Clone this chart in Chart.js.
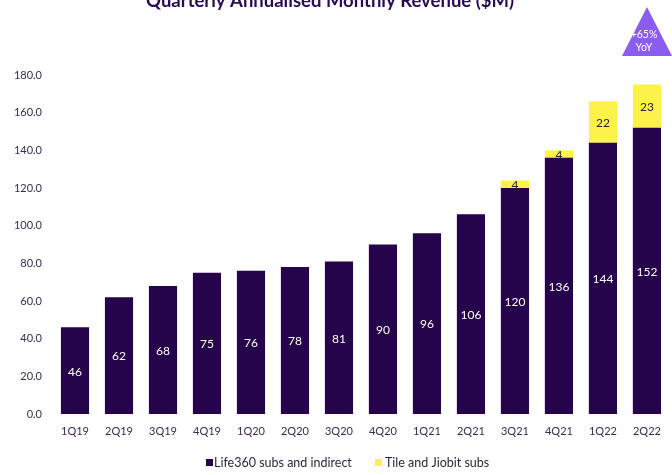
<!DOCTYPE html>
<html>
<head>
<meta charset="utf-8">
<script src="https://cdn.jsdelivr.net/npm/chart.js@4/dist/chart.umd.min.js"></script>
<style>
  html, body { margin: 0; padding: 0; background: #fff; }
  #wrap { width: 672px; height: 475px; position: relative; }
</style>
</head>
<body>
<div id="wrap"><canvas id="revenue-chart"></canvas></div>
<script>
const quarters = ['1Q19', '2Q19', '3Q19', '4Q19', '1Q20', '2Q20', '3Q20', '4Q20', '1Q21', '2Q21', '3Q21', '4Q21', '1Q22', '2Q22'];
const life360Subs = [46, 62, 68, 75, 76, 78, 81, 90, 96, 106, 120, 136, 144, 152];
const tileJiobitSubs = [null, null, null, null, null, null, null, null, null, null, 4, 4, 22, 23];
const yTicks = [0, 20, 40, 60, 80, 100, 120, 140, 160, 180];
const seriesNames = ['Life360 subs and indirect', 'Tile and Jiobit subs'];

const chartTitle = 'Quarterly Annualised Monthly Revenue ($M)*';
const badgeLines = ['+65%', 'YoY'];

const DARK = '#25044c';
const YELLOW = '#fdf24a';
const FONT = 'Lato, "Open Sans", sans-serif';

// values written inside each bar segment
const barLabels = {
  id: 'barLabels',
  afterDatasetsDraw(chart) {
    const { ctx } = chart;
    ctx.save();
    ctx.font = '12px ' + FONT;
    ctx.textAlign = 'center';
    ctx.textBaseline = 'middle';
    chart.data.datasets.forEach((ds, i) => {
      const meta = chart.getDatasetMeta(i);
      meta.data.forEach((bar, j) => {
        const v = ds.data[j];
        if (v == null) return;
        ctx.fillStyle = i === 0 ? '#ffffff' : '#2a2230';
        ctx.fillText(String(v), bar.x, (bar.y + bar.base) / 2 + 1);
      });
    });
    ctx.restore();
  },
};

// cut-off title, YoY triangle badge and the legend row
const decorations = {
  id: 'decorations',
  afterDraw(chart) {
    const { ctx } = chart;
    ctx.save();
    ctx.fillStyle = '#2b0a52';
    ctx.font = 'bold 18.5px ' + FONT;
    ctx.textAlign = 'center';
    ctx.textBaseline = 'alphabetic';
    ctx.fillText(chartTitle, 334, 7);

    ctx.fillStyle = '#8b5cf0';
    ctx.beginPath();
    ctx.moveTo(647, 7);
    ctx.lineTo(672, 56);
    ctx.lineTo(622, 56);
    ctx.closePath();
    ctx.fill();

    ctx.fillStyle = '#ffffff';
    ctx.font = '10.5px ' + FONT;
    ctx.textBaseline = 'middle';
    ctx.fillText(badgeLines[0], 644, 35);
    ctx.fillText(badgeLines[1], 644, 48);

    // legend
    const items = [
      { color: DARK, box: 206, text: 214 },
      { color: YELLOW, box: 375, text: 385 },
    ];
    ctx.font = '12.5px ' + FONT;
    ctx.textAlign = 'left';
    items.forEach((it, i) => {
      ctx.fillStyle = it.color;
      ctx.fillRect(it.box, 459, 7, 7);
      ctx.fillStyle = '#2b1f3a';
      ctx.fillText(seriesNames[i], it.text, 462.5);
    });
    ctx.restore();
  },
};

const ctx = document.getElementById('revenue-chart').getContext('2d');
new Chart(ctx, {
  type: 'bar',
  data: {
    labels: quarters,
    datasets: [
      {
        label: seriesNames[0],
        data: life360Subs,
        backgroundColor: DARK,
        barPercentage: 0.64,
        categoryPercentage: 1,
      },
      {
        label: seriesNames[1],
        data: tileJiobitSubs,
        backgroundColor: YELLOW,
        barPercentage: 0.64,
        categoryPercentage: 1,
      },
    ],
  },
  options: {
    responsive: true,
    maintainAspectRatio: false,
    animation: false,
    layout: { padding: { top: 75, right: 3, bottom: 32, left: 0 } },
    plugins: {
      title: { display: false },
      tooltip: { enabled: false },
      legend: { display: false },
    },
    scales: {
      x: {
        stacked: true,
        grid: { display: false, drawTicks: false },
        border: { display: false },
        ticks: {
          color: '#3a2b52',
          padding: 11,
          font: { family: FONT, size: 11 },
          maxRotation: 0,
        },
        afterFit(scale) { scale.height = 29; },
      },
      y: {
        stacked: true,
        min: 0,
        max: 180,
        grid: { display: false, drawTicks: false },
        border: { display: false },
        afterBuildTicks(scale) { scale.ticks = yTicks.map((v) => ({ value: v })); },
        ticks: {
          color: '#3a2b52',
          padding: 11,
          font: { family: FONT, size: 11 },
          callback: (v) => Number(v).toFixed(1),
        },
        afterFit(scale) { scale.width = 53; },
      },
    },
  },
  plugins: [barLabels, decorations],
});
</script>
</body>
</html>
